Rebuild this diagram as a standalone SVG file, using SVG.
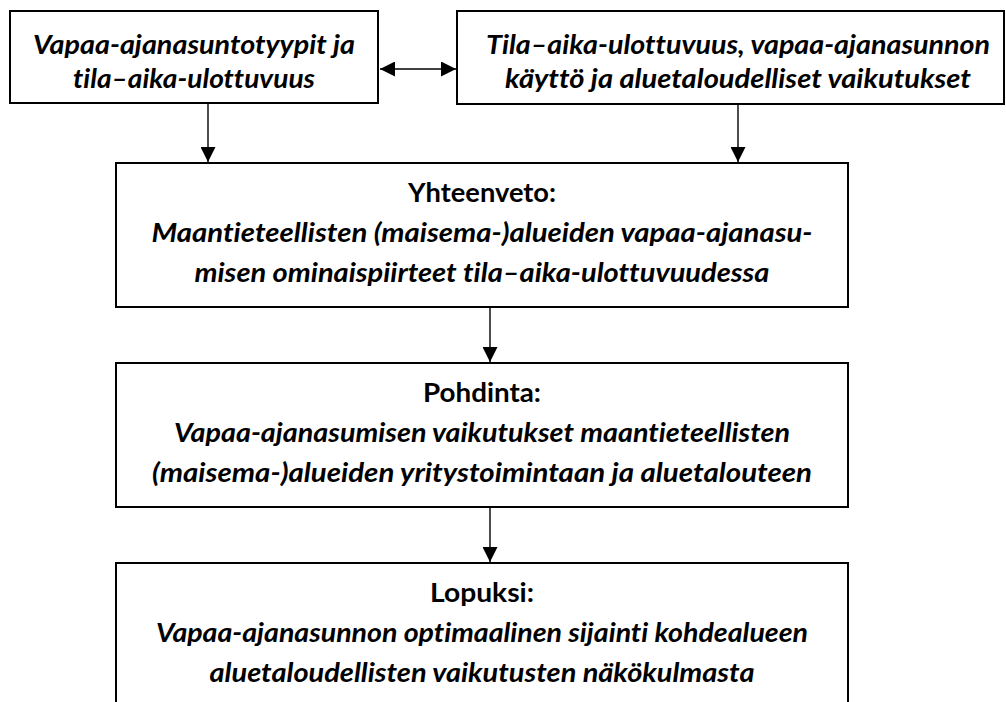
<svg xmlns="http://www.w3.org/2000/svg" width="1006" height="702" viewBox="0 0 1006 702">
<style>
.box{fill:#fff;stroke:#000;stroke-width:2}
.t,.h{font-family:Lato,"Open Sans","Liberation Sans",sans-serif;font-size:27px;font-weight:bold;fill:#000;text-anchor:middle;font-variant-ligatures:none;font-feature-settings:"liga" 0,"dlig" 0}
.t{font-style:italic}
.c{stroke:#000;stroke-width:1.4;fill:none}
</style>
<defs>
<marker id="ah" markerWidth="15" markerHeight="15" refX="15" refY="7.5" orient="auto-start-reverse" markerUnits="userSpaceOnUse">
<path d="M0,0 L15,7.5 L0,15 z" fill="#000"/>
</marker>
</defs>
<rect width="1006" height="702" fill="#fff"/>
<g id="connectors">
<line class="c" x1="380" y1="69" x2="456" y2="69" marker-start="url(#ah)" marker-end="url(#ah)"/>
<line class="c" x1="208" y1="103" x2="208" y2="162" marker-end="url(#ah)"/>
<line class="c" x1="738" y1="104" x2="738" y2="162" marker-end="url(#ah)"/>
<line class="c" x1="490" y1="307" x2="490" y2="362" marker-end="url(#ah)"/>
<line class="c" x1="490" y1="507" x2="490" y2="562" marker-end="url(#ah)"/>
</g>
<g id="node-tyypit">
<rect class="box" x="10" y="11" width="368" height="92"/>
<text class="t" x="194" y="54" textLength="322" lengthAdjust="spacingAndGlyphs">Vapaa-ajanasuntotyypit ja</text>
<text class="t" x="194" y="88" textLength="242" lengthAdjust="spacingAndGlyphs">tila–aika-ulottuvuus</text>
</g>
<g id="node-kaytto">
<rect class="box" x="457" y="11" width="547" height="93"/>
<text class="t" x="738" y="54" textLength="504" lengthAdjust="spacingAndGlyphs">Tila–aika-ulottuvuus, vapaa-ajanasunnon</text>
<text class="t" x="738" y="88" textLength="466" lengthAdjust="spacingAndGlyphs">käyttö ja aluetaloudelliset vaikutukset</text>
</g>
<g id="node-yhteenveto">
<rect class="box" x="116" y="163" width="732" height="144"/>
<text class="h" x="482" y="202" textLength="148" lengthAdjust="spacingAndGlyphs">Yhteenveto:</text>
<text class="t" x="482" y="242" textLength="661" lengthAdjust="spacingAndGlyphs">Maantieteellisten (maisema-)alueiden vapaa-ajanasu-</text>
<text class="t" x="482" y="282" textLength="575" lengthAdjust="spacingAndGlyphs">misen ominaispiirteet tila–aika-ulottuvuudessa</text>
</g>
<g id="node-pohdinta">
<rect class="box" x="116" y="363" width="732" height="144"/>
<text class="h" x="482" y="402" textLength="118" lengthAdjust="spacingAndGlyphs">Pohdinta:</text>
<text class="t" x="482" y="442" textLength="616" lengthAdjust="spacingAndGlyphs">Vapaa-ajanasumisen vaikutukset maantieteellisten</text>
<text class="t" x="482" y="482" textLength="660" lengthAdjust="spacingAndGlyphs">(maisema-)alueiden yritystoimintaan ja aluetalouteen</text>
</g>
<g id="node-lopuksi">
<rect class="box" x="116" y="563" width="732" height="160"/>
<text class="h" x="482" y="602" textLength="104" lengthAdjust="spacingAndGlyphs">Lopuksi:</text>
<text class="t" x="482" y="642" textLength="652" lengthAdjust="spacingAndGlyphs">Vapaa-ajanasunnon optimaalinen sijainti kohdealueen</text>
<text class="t" x="482" y="682" textLength="545" lengthAdjust="spacingAndGlyphs">aluetaloudellisten vaikutusten näkökulmasta</text>
</g>
</svg>
